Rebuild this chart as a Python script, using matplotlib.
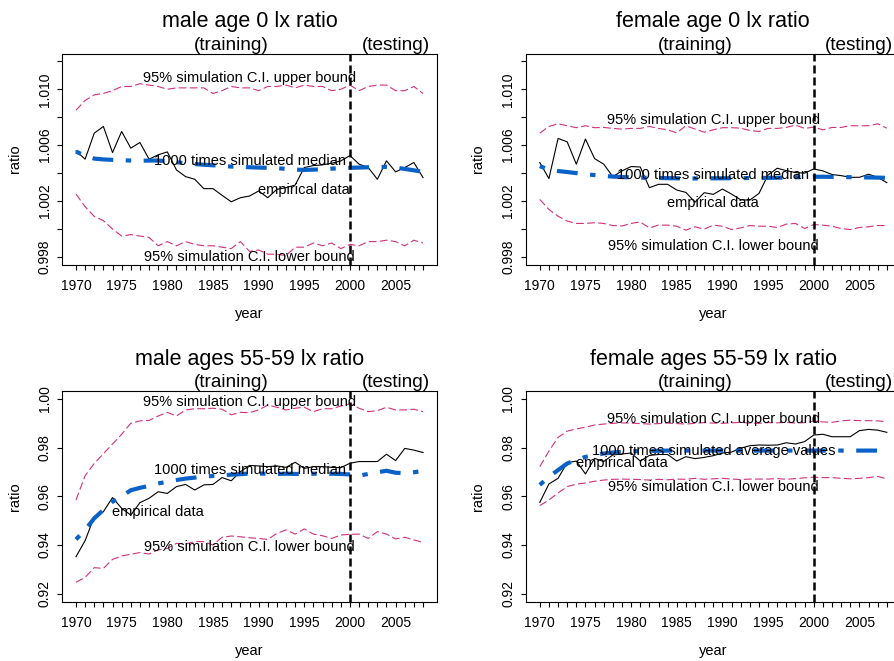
import matplotlib
matplotlib.use("Agg")
import matplotlib.pyplot as plt
import matplotlib.transforms as mtransforms
import numpy as np

plt.rcParams["font.family"] = ["Liberation Sans", "DejaVu Sans"]

years = np.arange(1970, 2009)

# male age 0
m0_emp = [1.00559, 1.00500, 1.00686, 1.00734, 1.00547, 1.00698, 1.00579, 1.00619, 1.00500, 1.00531,
          1.00552, 1.00423, 1.00375, 1.00356, 1.00289, 1.00289, 1.00241, 1.00195, 1.00224, 1.00236,
          1.00272, 1.00224, 1.00284, 1.00296, 1.00315, 1.00440, 1.00454, 1.00459, 1.00471, 1.00487,
          1.00526, 1.00464, 1.00440, 1.00356, 1.00488, 1.00409, 1.00440, 1.00476, 1.00368]
m0_med = [1.00555, 1.00523, 1.00504, 1.00498, 1.00495, 1.00492, 1.00490, 1.00488, 1.00490, 1.00490,
          1.00485, 1.00478, 1.00470, 1.00465, 1.00460, 1.00456, 1.00452, 1.00447, 1.00445, 1.00442,
          1.00440, 1.00438, 1.00436, 1.00430, 1.00425, 1.00423, 1.00425, 1.00428, 1.00432, 1.00436,
          1.00438, 1.00440, 1.00442, 1.00443, 1.00445, 1.00440, 1.00430, 1.00420, 1.00409]
m0_up = [1.0085, 1.0092, 1.0096, 1.0097, 1.0099, 1.0102, 1.0102, 1.0104, 1.0103, 1.0102,
         1.0100, 1.0101, 1.0101, 1.0101, 1.0101, 1.0097, 1.0099, 1.0102, 1.0101, 1.0101,
         1.0099, 1.0102, 1.0102, 1.0103, 1.0101, 1.0103, 1.0102, 1.0102, 1.0099, 1.0100,
         1.0103, 1.0099, 1.0102, 1.0103, 1.0103, 1.0099, 1.0099, 1.0102, 1.0097]
m0_lo = [1.0025, 1.0016, 1.0009, 1.0006, 1.0000, 0.9995, 0.9996, 0.9995, 0.9994, 0.9988,
         0.9991, 0.9988, 0.9991, 0.9989, 0.9988, 0.9988, 0.9987, 0.9986, 0.9991, 0.9984,
         0.9985, 0.9982, 0.9982, 0.9981, 0.9987, 0.9987, 0.9990, 0.9988, 0.9990, 0.9986,
         0.9989, 0.9988, 0.9991, 0.9991, 0.9992, 0.9991, 0.9988, 0.9992, 0.9990]

# female age 0
f0_emp = [1.00476, 1.00361, 1.00648, 1.00624, 1.00464, 1.00644, 1.00504, 1.00464, 1.00375, 1.00416,
          1.00447, 1.00444, 1.00296, 1.00320, 1.00320, 1.00279, 1.00262, 1.00192, 1.00260, 1.00248,
          1.00286, 1.00250, 1.00209, 1.00207, 1.00255, 1.00387, 1.00435, 1.00418, 1.00404, 1.00400,
          1.00430, 1.00416, 1.00390, 1.00382, 1.00370, 1.00370, 1.00392, 1.00370, 1.00332]
f0_med = [1.00450, 1.00425, 1.00415, 1.00408, 1.00400, 1.00392, 1.00386, 1.00380, 1.00375, 1.00372,
          1.00370, 1.00368, 1.00366, 1.00365, 1.00364, 1.00363, 1.00362, 1.00362, 1.00362, 1.00363,
          1.00363, 1.00364, 1.00364, 1.00365, 1.00365, 1.00366, 1.00367, 1.00368, 1.00370, 1.00372,
          1.00374, 1.00374, 1.00373, 1.00372, 1.00371, 1.00370, 1.00369, 1.00368, 1.00366]
f0_up = [1.00686, 1.00734, 1.00753, 1.00739, 1.00725, 1.00739, 1.00725, 1.00727, 1.00720, 1.00715,
         1.00720, 1.00720, 1.00734, 1.00720, 1.00710, 1.00688, 1.00739, 1.00715, 1.00693, 1.00710,
         1.00725, 1.00725, 1.00722, 1.00705, 1.00698, 1.00720, 1.00720, 1.00727, 1.00744, 1.00720,
         1.00729, 1.00710, 1.00727, 1.00727, 1.00739, 1.00739, 1.00739, 1.00753, 1.00722]
f0_lo = [1.00212, 1.00140, 1.00092, 1.00057, 1.00040, 1.00040, 1.00045, 1.00040, 1.00025, 1.00022,
         1.00040, 1.00051, 1.00008, 1.00028, 1.00028, 1.00020, 0.99992, 1.00016, 0.99999, 1.00028,
         1.00020, 0.99996, 1.00008, 1.00025, 1.00020, 1.00020, 1.00011, 1.00035, 1.00040, 1.00004,
         1.00032, 1.00028, 1.00020, 1.00004, 0.99996, 1.00011, 1.00016, 1.00025, 1.00025]

# male ages 55-59
m55_emp = [0.9352, 0.9418, 0.9516, 0.9537, 0.9595, 0.9551, 0.9523, 0.9574, 0.9592, 0.9619,
           0.9612, 0.9640, 0.9649, 0.9626, 0.9647, 0.9649, 0.9677, 0.9664, 0.9701, 0.9727,
           0.9725, 0.9722, 0.9725, 0.9719, 0.9740, 0.9715, 0.9722, 0.9722, 0.9719, 0.9718,
           0.9736, 0.9743, 0.9743, 0.9743, 0.9773, 0.9747, 0.9797, 0.9790, 0.9780]
m55_med = [0.9423, 0.9462, 0.9510, 0.9544, 0.9578, 0.9600, 0.9625, 0.9635, 0.9643, 0.9653,
           0.9660, 0.9667, 0.9673, 0.9677, 0.9681, 0.9684, 0.9686, 0.9689, 0.9691, 0.9694,
           0.9694, 0.9692, 0.9692, 0.9693, 0.9692, 0.9692, 0.9693, 0.9692, 0.9693, 0.9692,
           0.9690, 0.9685, 0.9692, 0.9699, 0.9705, 0.9697, 0.9695, 0.9699, 0.9705]
m55_up = [0.9585, 0.9685, 0.9735, 0.9775, 0.9815, 0.9855, 0.9900, 0.9910, 0.9912, 0.9930,
          0.9945, 0.9930, 0.9955, 0.9960, 0.9960, 0.9962, 0.9958, 0.9935, 0.9945, 0.9944,
          0.9955, 0.9975, 0.9966, 0.9955, 0.9962, 0.9966, 0.9948, 0.9960, 0.9960, 0.9971,
          0.9980, 0.9962, 0.9948, 0.9952, 0.9966, 0.9955, 0.9955, 0.9958, 0.9948]
m55_lo = [0.9247, 0.9267, 0.9307, 0.9304, 0.9341, 0.9355, 0.9362, 0.9369, 0.9363, 0.9380,
          0.9386, 0.9407, 0.9404, 0.9414, 0.9414, 0.9400, 0.9432, 0.9437, 0.9434, 0.9430,
          0.9427, 0.9423, 0.9448, 0.9462, 0.9445, 0.9466, 0.9445, 0.9438, 0.9427, 0.9441,
          0.9444, 0.9445, 0.9427, 0.9455, 0.9445, 0.9425, 0.9432, 0.9421, 0.9411]

# female ages 55-59
f55_emp = [0.9575, 0.9651, 0.9674, 0.9738, 0.9745, 0.9692, 0.9756, 0.9743, 0.9770, 0.9774,
           0.9778, 0.9745, 0.9768, 0.9772, 0.9772, 0.9745, 0.9763, 0.9755, 0.9760, 0.9767,
           0.9778, 0.9782, 0.9798, 0.9808, 0.9811, 0.9810, 0.9811, 0.9820, 0.9815, 0.9825,
           0.9852, 0.9855, 0.9845, 0.9845, 0.9845, 0.9870, 0.9875, 0.9872, 0.9863]
f55_avg = [0.9647, 0.9680, 0.9708, 0.9735, 0.9750, 0.9762, 0.9770, 0.9776, 0.9780, 0.9783,
           0.9785, 0.9786, 0.9787, 0.9787, 0.9788, 0.9788, 0.9788, 0.9788, 0.9788, 0.9788,
           0.9788, 0.9788, 0.9788, 0.9788, 0.9788, 0.9788, 0.9788, 0.9788, 0.9788, 0.9788,
           0.9788, 0.9788, 0.9788, 0.9788, 0.9788, 0.9788, 0.9788, 0.9788, 0.9788]
f55_up = [0.9722, 0.9786, 0.9842, 0.9868, 0.9877, 0.9884, 0.9893, 0.9897, 0.9900, 0.9902,
          0.9901, 0.9899, 0.9897, 0.9899, 0.9901, 0.9899, 0.9897, 0.9900, 0.9903, 0.9901,
          0.9900, 0.9902, 0.9904, 0.9901, 0.9900, 0.9903, 0.9902, 0.9904, 0.9901, 0.9903,
          0.9909, 0.9906, 0.9904, 0.9910, 0.9913, 0.9911, 0.9911, 0.9910, 0.9907]
f55_lo = [0.9562, 0.9585, 0.9614, 0.9640, 0.9650, 0.9655, 0.9662, 0.9667, 0.9670, 0.9671,
          0.9670, 0.9669, 0.9667, 0.9670, 0.9668, 0.9671, 0.9670, 0.9674, 0.9670, 0.9672,
          0.9674, 0.9671, 0.9669, 0.9671, 0.9671, 0.9671, 0.9673, 0.9670, 0.9673, 0.9676,
          0.9679, 0.9677, 0.9677, 0.9674, 0.9672, 0.9674, 0.9677, 0.9682, 0.9672]

age0_ticks = [0.998, 1.000, 1.002, 1.004, 1.006, 1.008, 1.010, 1.012]
age0_labels = ["0.998", "", "1.002", "", "1.006", "", "1.010", ""]
age55_ticks = [0.92, 0.94, 0.96, 0.98, 1.00]
age55_labels = ["0.92", "0.94", "0.96", "0.98", "1.00"]

PINK = "#d2307e"
BLUE = "#0a62c8"
W, H = 894, 661


def draw_panel(rect, title, emp, mid, up, lo, ylim, yticks, ylabels, texts):
    left, top, width, height = rect
    ax = plt.gcf().add_axes([left / W, 1 - (top + height) / H, width / W, height / H])

    ax.plot(years, emp, color="black", lw=0.8)
    ax.plot(years, mid, color=BLUE, lw=3.0, dashes=(1.3, 3, 5, 3))
    ax.plot(years, up, color=PINK, lw=0.8, dashes=(7, 3))
    ax.plot(years, lo, color=PINK, lw=0.8, dashes=(7, 3))
    ax.axvline(2000, color="black", lw=1.8, dashes=(3.2, 1.6))

    for x, y, s in texts:
        ax.text(x, y, s, ha="center", va="center", fontsize=10.5)

    ax.set_xlim(1968.48, 2009.52)
    ax.set_ylim(*ylim)
    ax.set_xticks(years)
    ax.set_xticklabels([str(y) if y % 5 == 0 else "" for y in years])
    ax.set_yticks(yticks)
    ax.set_yticklabels(ylabels, rotation=90, va="center")
    ax.tick_params(direction="out", length=3.5, width=0.8, labelsize=10)
    ax.tick_params(axis="x", pad=7)
    ax.tick_params(axis="y", pad=4)
    for sp in ax.spines.values():
        sp.set_linewidth(0.8)

    ax.set_xlabel("year", fontsize=10.5)
    ax.set_ylabel("ratio", fontsize=10.5)
    ax.xaxis.set_label_coords(0.5, -0.2)
    ax.yaxis.set_label_coords(-0.108, 0.5)

    ax.set_title(title, fontsize=15.5, pad=19)
    trans = mtransforms.blended_transform_factory(ax.transData, ax.transAxes)
    ax.text(1987, 1.0, "(training)", transform=trans, ha="center", va="bottom",
            fontsize=13.7, clip_on=False)
    ax.text(2005, 1.0, "(testing)", transform=trans, ha="center", va="bottom",
            fontsize=13.7, clip_on=False)
    return ax


fig = plt.figure(figsize=(W / 100, H / 100), dpi=100)

draw_panel((62.1, 53.5, 374.8, 211.3), "male age 0 lx ratio",
           m0_emp, m0_med, m0_up, m0_lo, (0.99744, 1.01256), age0_ticks, age0_labels,
           [(1989, 1.0108, "95% simulation C.I. upper bound"),
            (1989, 1.00485, "1000 times simulated median"),
            (1995, 1.00282, "empirical data"),
            (1989, 0.99802, "95% simulation C.I. lower bound")])

draw_panel((525.9, 53.5, 374.8, 211.3), "female age 0 lx ratio",
           f0_emp, f0_med, f0_up, f0_lo, (0.99744, 1.01256), age0_ticks, age0_labels,
           [(1989, 1.00779, "95% simulation C.I. upper bound"),
            (1989, 1.00384, "1000 times simulated median"),
            (1989, 1.00186, "empirical data"),
            (1989, 0.99882, "95% simulation C.I. lower bound")])

draw_panel((62.1, 391.2, 374.8, 210.3), "male ages 55-59 lx ratio",
           m55_emp, m55_med, m55_up, m55_lo, (0.9168, 1.0032), age55_ticks, age55_labels,
           [(1989, 0.9989, "95% simulation C.I. upper bound"),
            (1989, 0.9708, "1000 times simulated median"),
            (1979, 0.9537, "empirical data"),
            (1989, 0.9391, "95% simulation C.I. lower bound")])

draw_panel((525.9, 391.2, 374.8, 210.3), "female ages 55-59 lx ratio",
           f55_emp, f55_avg, f55_up, f55_lo, (0.9168, 1.0032), age55_ticks, age55_labels,
           [(1989, 0.9919, "95% simulation C.I. upper bound"),
            (1989, 0.9787, "1000 times simulated average values"),
            (1979, 0.9738, "empirical data"),
            (1989, 0.9640, "95% simulation C.I. lower bound")])

fig.savefig("out.png", dpi=100)
